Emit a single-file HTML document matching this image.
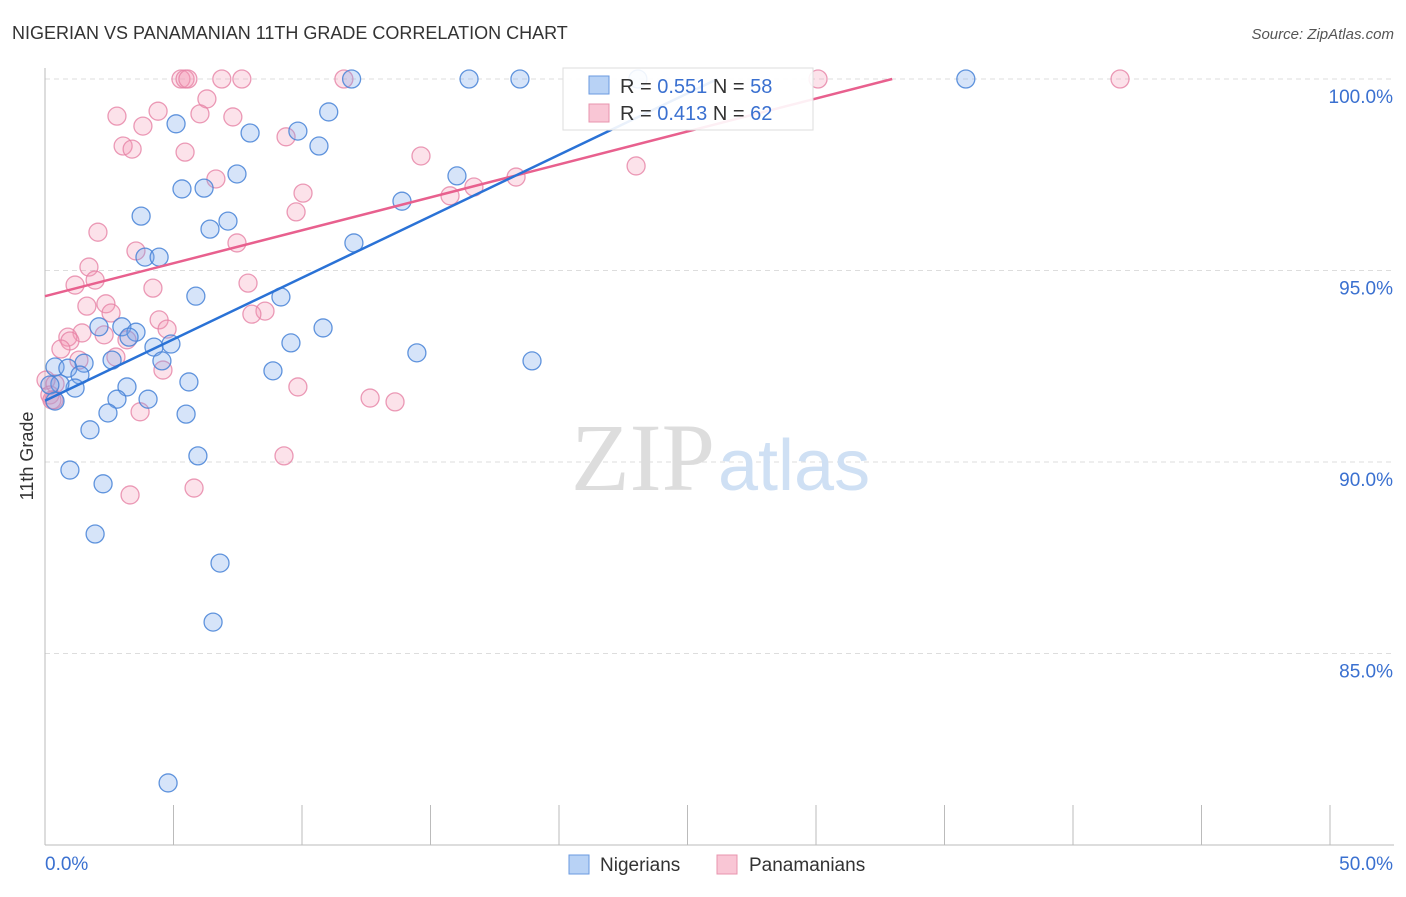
<!DOCTYPE html>
<html><head><meta charset="utf-8"><style>
body{margin:0;background:#fff;font-family:"Liberation Sans",sans-serif}
</style></head><body>
<svg width="1406" height="892" viewBox="0 0 1406 892" xmlns="http://www.w3.org/2000/svg">
<text x="12" y="39" font-size="18" fill="#333">NIGERIAN VS PANAMANIAN 11TH GRADE CORRELATION CHART</text>
<text x="1394" y="39" font-size="15" fill="#555" text-anchor="end" font-style="italic">Source: ZipAtlas.com</text>
<text x="33" y="456" font-size="18" fill="#333" transform="rotate(-90 33 456)" text-anchor="middle">11th Grade</text>
<g id="grid"></g>
<text x="715" y="490" font-size="96" font-family="Liberation Serif" fill="#ddd" text-anchor="end">ZIP</text>
<text x="718" y="490" font-size="72" fill="#cfe0f4">atlas</text>
<g id="pts"></g>
<g id="lines"></g>
<g>
<rect x="563" y="68" width="250" height="62" fill="#fff" fill-opacity="0.9" stroke="#ddd"/>
<rect x="589" y="76" width="20" height="18" fill="#b8d2f5" stroke="#6a9ae0"/>
<text x="620" y="93" font-size="20" fill="#333">R = <tspan fill="#3a70d0">0.551</tspan>   N = <tspan fill="#3a70d0">58</tspan></text>
<rect x="589" y="104" width="20" height="18" fill="#f9c6d5" stroke="#e894ae"/>
<text x="620" y="120" font-size="20" fill="#333">R = <tspan fill="#3a70d0">0.413</tspan>   N = <tspan fill="#3a70d0">62</tspan></text>
</g>
<g>
<rect x="569" y="855" width="20" height="19" fill="#b8d2f5" stroke="#6a9ae0"/>
<text x="600" y="871" font-size="19" fill="#333">Nigerians</text>
<rect x="717" y="855" width="20" height="19" fill="#f9c6d5" stroke="#e894ae"/>
<text x="749" y="871" font-size="19" fill="#333">Panamanians</text>
</g>
</svg>
<script>
const NS='http://www.w3.org/2000/svg';
const yTicks=[100,95,90,85];
const yTickLabels=['100.0%','95.0%','90.0%','85.0%'];
const xTickLabels=['0.0%','50.0%'];
const blueX=[11.93,16.5,18.48,23.07,35.83,11.04,5.1,7.98,9.84,10.66,7.47,5.33,6.19,16.03,13.89,3.74,7.12,6.42,12.02,3.89,4.44,5.87,9.18,2.1,2.99,3.54,3.27,10.82,4.24,4.9,9.57,14.47,2.61,4.55,1.52,0.39,0.89,18.95,8.87,1.36,5.6,3.19,1.17,0.58,0.19,2.8,4.01,0.39,2.45,5.49,1.75,5.95,0.97,2.26,1.95,6.81,6.54,4.79];
const blueY=[100,100,100,100,100,99.14,98.83,98.59,98.64,98.25,97.52,97.13,97.15,97.47,96.81,96.42,96.29,96.08,95.72,95.35,95.35,94.33,94.31,93.53,93.53,93.39,93.26,93.5,93.0,93.08,93.11,92.85,92.66,92.64,92.58,92.48,92.45,92.64,92.38,92.27,92.09,91.96,91.93,92.04,92.01,91.64,91.64,91.59,91.28,91.25,90.84,90.16,89.79,89.43,88.12,87.36,85.82,81.62];
const pinkX=[5.29,5.45,5.56,6.88,7.66,11.63,30.08,41.83,6.3,2.8,4.4,6.03,7.31,3.81,3.04,3.39,5.45,14.63,9.38,23,6.65,10.04,16.69,15.76,18.33,9.77,2.06,7.47,3.54,1.71,1.17,1.95,4.2,7.9,1.63,2.37,8.56,8.05,2.57,4.44,4.75,1.44,0.89,0.97,2.3,0.62,3.19,1.32,2.76,4.59,0.04,0.39,0.19,0.35,3.7,9.84,12.65,13.62,9.3,5.8,3.31,0.27];
const pinkY=[100,100,100,100,100,100,100,100,99.48,99.03,99.16,99.09,99.01,98.77,98.25,98.17,98.09,97.99,98.49,97.73,97.39,97.02,97.18,96.95,97.44,96.53,96.0,95.72,95.51,95.09,94.62,94.75,94.54,94.67,94.07,94.13,93.94,93.86,93.89,93.71,93.47,93.37,93.26,93.16,93.32,92.95,93.19,92.66,92.74,92.4,92.14,92.04,91.75,91.62,91.31,91.96,91.67,91.57,90.16,89.32,89.14,91.62];
const blueLine=[91.6,0.321];
const pinkLine=[94.33,0.172];
const X=v=>45+v/50*1285, Y=v=>79+(100-v)/5*191.5;
function el(t,a,p){const e=document.createElementNS(NS,t);for(const k in a)e.setAttribute(k,a[k]);p.appendChild(e);return e;}
const g=document.getElementById('grid');
yTicks.forEach((t,i)=>{
 const l=el('line',{x1:45,x2:1394,y1:Y(t),y2:Y(t),stroke:'#ddd','stroke-dasharray':'5,4'},g);
 
 
 const tx=el('text',{x:1393,y:Y(t)+24,'font-size':19,fill:'#3a70d0','text-anchor':'end'},g);
 tx.textContent=yTickLabels[i];
 
 
});
const ax=el('line',{x1:45,x2:45,y1:68,y2:845,stroke:'#bbb'},g);


const bx=el('line',{x1:45,x2:1394,y1:845,y2:845,stroke:'#bbb'},g);


for(let i=0;i<=10;i++){const t=el('line',{x1:X(i*5),x2:X(i*5),y1:805,y2:845,stroke:'#bbb'},g);
 
 }
[[0,'start',45],[50,'end',1393]].forEach((d,i)=>{const t=el('text',{x:d[2],y:870,'font-size':19,fill:'#3a70d0','text-anchor':d[1]},g);t.textContent=xTickLabels[i];
 
 });
const p=document.getElementById('pts');
function pts(xs,ys,fill,stroke,name){xs.forEach((x,i)=>{const c=el('circle',{cx:X(x),cy:Y(ys[i]),r:9,fill:fill,stroke:stroke,'stroke-width':1.3},p);
 
 });}
pts(pinkX,pinkY,'rgba(244,150,180,0.28)','rgba(230,130,165,0.8)','panamanian-point');
pts(blueX,blueY,'rgba(120,165,235,0.3)','rgba(70,130,215,0.85)','nigerian-point');
const L=document.getElementById('lines');
function line(c,col,name){const xe=(100-c[0])/c[1];const e=el('line',{x1:X(0),y1:Y(c[0]),x2:X(xe),y2:Y(100),stroke:col,'stroke-width':2.5},L);
 
 }
line(pinkLine,'#e8608e','panamanian-trendline');
line(blueLine,'#2a72d6','nigerian-trendline');
</script>
</body></html>
